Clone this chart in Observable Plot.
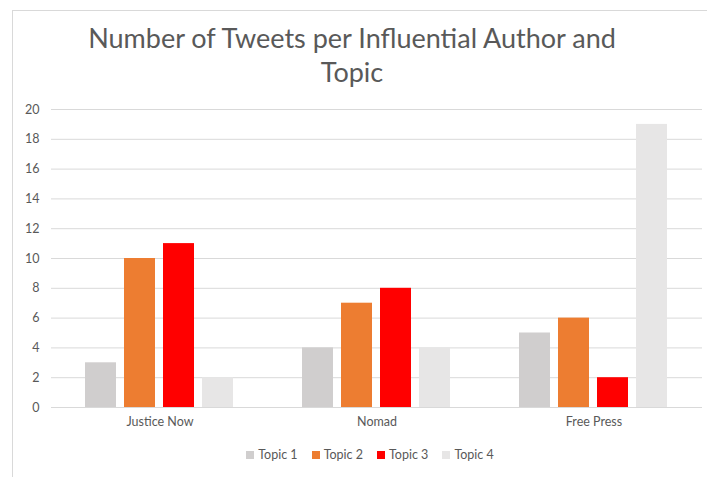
<!DOCTYPE html>
<html>
<head>
<meta charset="utf-8">
<script src="https://cdn.jsdelivr.net/npm/d3@7"></script>
<script src="https://cdn.jsdelivr.net/npm/@observablehq/plot@0.6"></script>
<style>
  html, body { margin: 0; padding: 0; background: #fff; }
  #wrap { position: relative; width: 707px; height: 477px; overflow: hidden; font-family: Lato, "Open Sans", sans-serif; }
  #frame { position: absolute; left: 12px; top: 10px; width: 720px; height: 480px; border-top: 1px solid #d9d9d9; border-left: 1px solid #d9d9d9; }
  #chart { position: absolute; left: 0; top: 0; }
  #title { position: absolute; left: 2px; width: 700px; top: 21px; text-align: center; font-size: 27px; font-weight: 400; line-height: 34px; color: #595959; }
  #legend { position: absolute; left: 0; width: 740px; top: 447px; display: flex; justify-content: center; gap: 14px; font-size: 12.5px; color: #595959; }
  .item { display: flex; align-items: center; gap: 4px; }
  .sw { width: 8px; height: 8px; display: inline-block; }
</style>
</head>
<body>
<div id="wrap">
  <div id="frame"></div>
  <div id="chart"></div>
  <div id="title">Number of Tweets per Influential Author and<br>Topic</div>
  <div id="legend"></div>
</div>
<script>
const authors = ["Justice Now", "Nomad", "Free Press"];
const topics = ["Topic 1", "Topic 2", "Topic 3", "Topic 4"];
const colors = ["#d0cece", "#ed7d31", "#ff0000", "#e7e6e6"];
const topic1 = [3, 4, 5];
const topic2 = [10, 7, 6];
const topic3 = [11, 8, 2];
const topic4 = [2, 4, 19];
const yTicks = [0, 2, 4, 6, 8, 10, 12, 14, 16, 18, 20];

const series = [topic1, topic2, topic3, topic4];
const data = [];
authors.forEach((a, i) => topics.forEach((t, j) => data.push({author: a, topic: t, value: series[j][i]})));

const chart = Plot.plot({
  width: 707,
  height: 477,
  marginTop: 109,
  marginBottom: 70,
  marginLeft: 50,
  marginRight: 4,
  style: {fontFamily: "Lato, 'Open Sans', sans-serif", fontSize: "12.5px", color: "#595959", background: "transparent"},
  fx: {domain: authors, padding: 0, label: null},
  x: {domain: topics, axis: null, paddingInner: 0.2, paddingOuter: 0.87},
  y: {domain: [0, 20], axis: null},
  color: {domain: topics, range: colors},
  marks: [
    Plot.ruleY(yTicks, {stroke: "#d9d9d9", strokeWidth: 1}),
    Plot.barY(data, {fx: "author", x: "topic", y: "value", fill: "topic"}),
    Plot.axisY({ticks: yTicks, tickSize: 0, tickPadding: 12, label: null, fill: "#595959"}),
    Plot.axisFx({anchor: "bottom", tickSize: 0, tickPadding: 10, label: null, fill: "#595959"})
  ]
});
document.getElementById("chart").appendChild(chart);

const legend = document.getElementById("legend");
topics.forEach((t, i) => {
  const item = document.createElement("span");
  item.className = "item";
  const sw = document.createElement("span");
  sw.className = "sw";
  sw.style.background = colors[i];
  item.appendChild(sw);
  item.appendChild(document.createTextNode(t));
  legend.appendChild(item);
});
</script>
</body>
</html>
